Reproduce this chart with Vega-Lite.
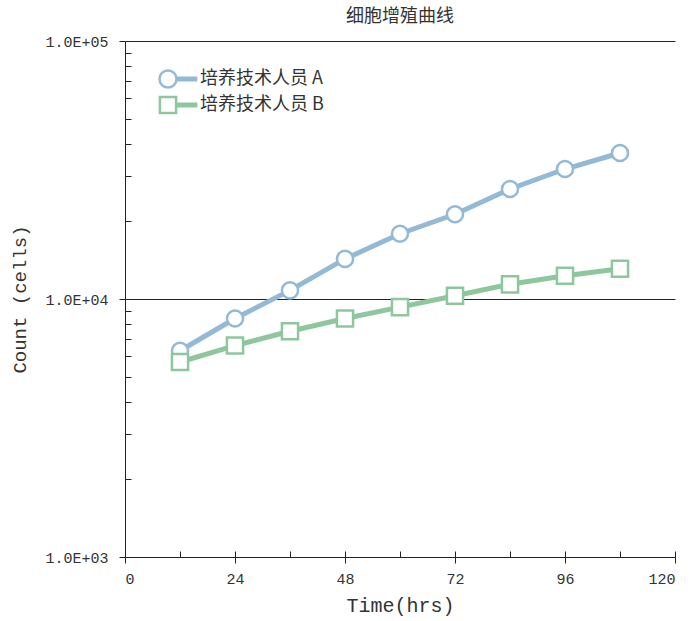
{
  "$schema": "https://vega.github.io/schema/vega-lite/v6.json",
  "autosize": "none",
  "width": 550,
  "height": 516,
  "padding": {"left": 125, "top": 41, "right": 24, "bottom": 64},
  "title": {"text": "细胞增殖曲线", "font": "Noto Sans CJK SC", "fontSize": 18, "fontWeight": "normal", "color": "#333333", "anchor": "middle", "offset": 8},
  "config": {
    "view": {"stroke": null},
    "axis": {"labelFont": "Liberation Mono", "labelFontSize": 15, "labelColor": "#333333", "titleFont": "Liberation Mono", "titleFontWeight": "normal", "titleColor": "#333333", "domainColor": "#222222", "tickColor": "#222222", "gridColor": "#222222"}
  },
  "data": {"values": [
    {"t": 12, "count": 6300, "s": "培养技术人员 A"},
    {"t": 24, "count": 8400, "s": "培养技术人员 A"},
    {"t": 36, "count": 10800, "s": "培养技术人员 A"},
    {"t": 48, "count": 14300, "s": "培养技术人员 A"},
    {"t": 60, "count": 17900, "s": "培养技术人员 A"},
    {"t": 72, "count": 21300, "s": "培养技术人员 A"},
    {"t": 84, "count": 26700, "s": "培养技术人员 A"},
    {"t": 96, "count": 31900, "s": "培养技术人员 A"},
    {"t": 108, "count": 36800, "s": "培养技术人员 A"},
    {"t": 12, "count": 5700, "s": "培养技术人员 B"},
    {"t": 24, "count": 6600, "s": "培养技术人员 B"},
    {"t": 36, "count": 7500, "s": "培养技术人员 B"},
    {"t": 48, "count": 8400, "s": "培养技术人员 B"},
    {"t": 60, "count": 9300, "s": "培养技术人员 B"},
    {"t": 72, "count": 10300, "s": "培养技术人员 B"},
    {"t": 84, "count": 11400, "s": "培养技术人员 B"},
    {"t": 96, "count": 12300, "s": "培养技术人员 B"},
    {"t": 108, "count": 13100, "s": "培养技术人员 B"}
  ]},
  "resolve": {"axis": {"x": "independent", "y": "independent"}},
  "layer": [
    {
      "mark": {"type": "line", "strokeWidth": 5},
      "encoding": {
        "x": {"field": "t", "type": "quantitative", "scale": {"domain": [0, 120], "nice": false},
          "axis": {"orient": "bottom", "values": [0, 24, 48, 72, 96, 120], "tickSize": 6, "labelPadding": 8, "grid": false, "title": "Time(hrs)", "titleFontSize": 20, "titlePadding": 9}},
        "y": {"field": "count", "type": "quantitative", "scale": {"type": "log", "domain": [1000, 100000], "nice": false},
          "axis": {"orient": "left", "values": [1000, 10000, 100000], "tickSize": 6, "labelPadding": 11, "grid": true, "gridWidth": 1,
            "labelExpr": "datum.value == 1000 ? '1.0E+03' : datum.value == 10000 ? '1.0E+04' : '1.0E+05'",
            "title": "Count (cells)", "titleFontSize": 19, "titlePadding": 15}},
        "color": {"field": "s", "type": "nominal", "scale": {"range": ["#93b9d6", "#8ec79e"]},
          "legend": {"title": null, "orient": "none", "legendX": 33, "legendY": 28, "symbolSize": 289, "symbolStrokeWidth": 2.5, "labelOffset": 22, "rowPadding": -2,
            "labelFont": "Noto Sans CJK SC", "labelFontSize": 18, "labelColor": "#333333",
            "encode": {"symbols": {"update": {
              "shape": [{"test": "datum.value === '培养技术人员 A'", "value": "M-1,0A1,1,0,1,1,1,0A1,1,0,1,1,-1,0Z M1,-0.15H3.3V0.15H1Z"}, {"value": "M-0.95,-0.95H0.95V0.95H-0.95Z M0.95,-0.15H3.3V0.15H0.95Z"}],
              "fill": {"value": "white"},
              "strokeWidth": {"value": 2.5}
            }}}}}
      }
    },
    {
      "mark": {"type": "point", "filled": true, "fill": "white", "strokeWidth": 2.5, "size": 260, "opacity": 1},
      "encoding": {
        "x": {"field": "t", "type": "quantitative",
          "axis": {"orient": "bottom", "values": [0, 12, 24, 36, 48, 60, 72, 84, 96, 108, 120], "tickSize": -6, "labels": false, "domain": false, "grid": false, "title": null}},
        "y": {"field": "count", "type": "quantitative",
          "axis": {"orient": "left", "values": [2000, 3000, 4000, 5000, 6000, 7000, 8000, 9000, 20000, 30000, 40000, 50000, 60000, 70000, 80000, 90000], "tickSize": -6, "labels": false, "domain": false, "grid": false, "title": null}},
        "stroke": {"field": "s", "type": "nominal", "scale": {"range": ["#93b9d6", "#8ec79e"]}, "legend": null},
        "shape": {"field": "s", "type": "nominal", "scale": {"range": ["circle", "square"]}, "legend": null}
      }
    }
  ]
}
